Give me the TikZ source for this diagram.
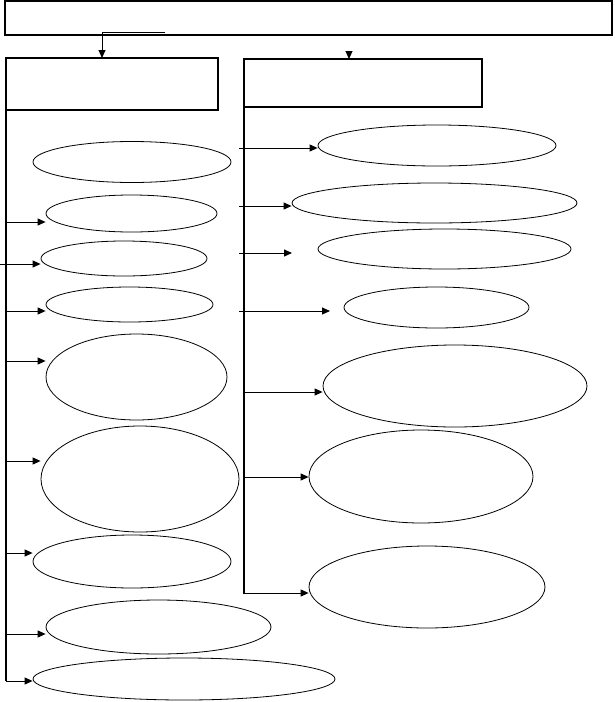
\documentclass[tikz,border=0pt]{standalone}
\usetikzlibrary{arrows.meta,shapes.geometric}
\begin{document}
\begin{tikzpicture}[x=1pt,y=-1pt,
  box/.style={draw,line width=1.1pt,rectangle,inner sep=0pt},
  oval/.style={draw,line width=0.8pt,ellipse,inner sep=0pt},
  arr/.style={line width=1pt,-{Triangle[length=8pt,width=7pt]}},
  ln/.style={line width=1.1pt}]
\useasboundingbox (0,0) rectangle (614,702);
% boxes
\node[box,minimum width=607pt,minimum height=34pt] (T) at (308.5,18) {};
\node[box,minimum width=212pt,minimum height=52pt] (LB) at (112,84) {};
\node[box,minimum width=238pt,minimum height=48pt] (RB) at (363,83) {};
% left ellipses
\node[oval,minimum width=198pt,minimum height=41pt] (E1) at (132,162) {};
\node[oval,minimum width=171pt,minimum height=37pt] (E2) at (131.5,213.5) {};
\node[oval,minimum width=166pt,minimum height=35pt] (E3) at (124,258.5) {};
\node[oval,minimum width=167pt,minimum height=35pt] (E4) at (129.5,304.5) {};
\node[oval,minimum width=181pt,minimum height=86pt] (E5) at (136.5,377) {};
\node[oval,minimum width=198pt,minimum height=106pt] (E6) at (140,479) {};
\node[oval,minimum width=198pt,minimum height=53pt] (E7) at (132,561.5) {};
\node[oval,minimum width=225pt,minimum height=54pt] (E8) at (158.5,627) {};
\node[oval,minimum width=302pt,minimum height=42pt] (E9) at (184,679) {};
% right ellipses
\node[oval,minimum width=238pt,minimum height=41pt] (R1) at (437,145.5) {};
\node[oval,minimum width=285pt,minimum height=40pt] (R2) at (434.5,203) {};
\node[oval,minimum width=253pt,minimum height=40pt] (R3) at (444.5,249) {};
\node[oval,minimum width=185pt,minimum height=41pt] (R4) at (436.5,307.5) {};
\node[oval,minimum width=264pt,minimum height=82pt] (R5) at (455,386) {};
\node[oval,minimum width=224pt,minimum height=93pt] (R6) at (421,476.5) {};
\node[oval,minimum width=236pt,minimum height=82pt] (R7) at (427,587) {};
% top connectors
\coordinate (tc) at (165,32);
\coordinate (tk) at (102,32);
\coordinate (td) at (102,58);
\draw[arr] (tc) -- (tk) -- (td);
\coordinate (rs) at (349,51);
\coordinate (rd) at (349,59);
\draw[arr] (rs) -- (rd);
% left trunk
\coordinate (L0) at (6,110);
\coordinate (L9) at (6,681);
\draw[ln] (L0) -- (L9);
\draw[arr] (L9) -- (L9 -| E9.west);
\coordinate (l2) at (7,222);
\coordinate (l3) at (0,264);
\coordinate (l4) at (7,311);
\coordinate (l5) at (7,361);
\coordinate (l6) at (7,461);
\coordinate (l7) at (7,553);
\coordinate (l8) at (7,634);
\draw[arr] (l2) -- (l2 -| E2.west);
\draw[arr] (l3) -- (l3 -| E3.west);
\draw[arr] (l4) -- (l4 -| E4.west);
\draw[arr] (l5) -- (l5 -| E5.west);
\draw[arr] (l6) -- (l6 -| E6.west);
\draw[arr] (l7) -- (l7 -| E7.west);
\draw[arr] (l8) -- (l8 -| E8.west);
% right trunk
\coordinate (Q0) at (244,107);
\coordinate (Q9) at (244,593);
\draw[ln] (Q0) -- (Q9);
\coordinate (r1) at (239,148);
\coordinate (r2) at (239,206);
\coordinate (r3) at (239,253);
\coordinate (r3e) at (292,253);
\coordinate (r4) at (239,311);
\coordinate (r4e) at (330,311);
\coordinate (r5) at (243,392);
\coordinate (r6) at (243,477);
\coordinate (r7) at (243,593);
\draw[arr] (r1) -- (r1 -| R1.west);
\draw[arr] (r2) -- (r2 -| R2.west);
\draw[arr] (r3) -- (r3e);
\draw[arr] (r4) -- (r4e);
\draw[arr] (r5) -- (r5 -| R5.west);
\draw[arr] (r6) -- (r6 -| R6.west);
\draw[arr] (r7) -- (r7 -| R7.west);
\end{tikzpicture}
\end{document}
